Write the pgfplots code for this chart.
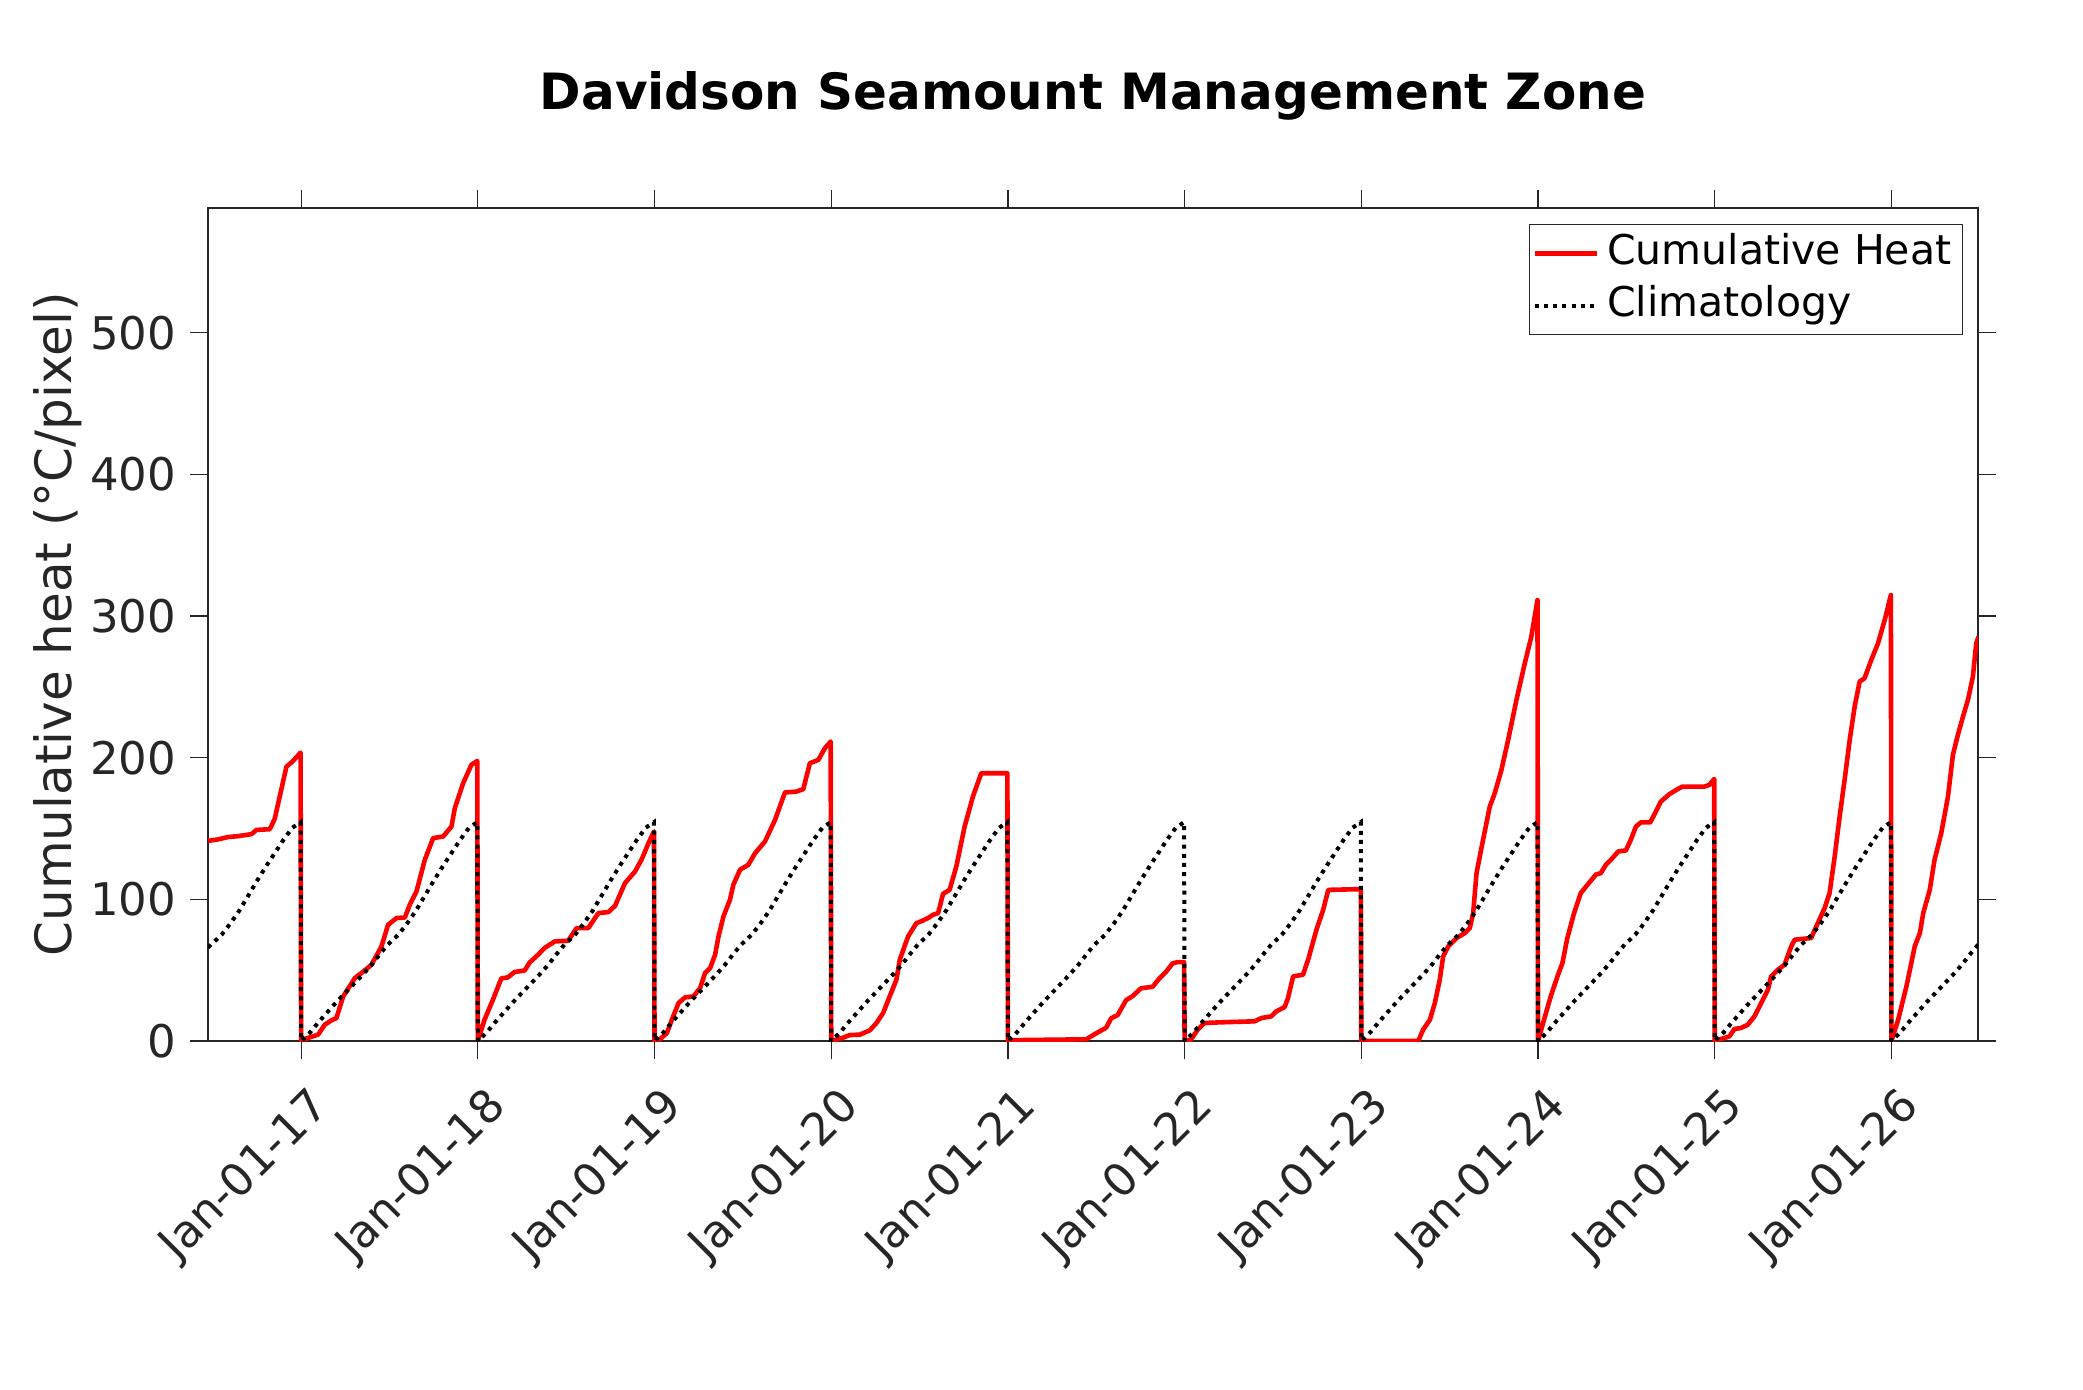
\documentclass[border=0pt]{standalone}
\usepackage{pgfplots}
\pgfplotsset{compat=1.18}
\usepackage{fontspec}
\setmainfont{DejaVu Sans}
\definecolor{axgray}{HTML}{262626}
\begin{document}
\begin{tikzpicture}
\useasboundingbox (0,0) rectangle (1041.5pt,694.5pt);
\begin{axis}[
  at={(104pt,174pt)}, anchor=south west,
  scale only axis, width=885pt, height=416.5pt,
  xmin=2016.473, xmax=2026.49, ymin=0, ymax=588,
  xtick={2017,2018,2019,2020,2021,2022,2023,2024,2025,2026},
  xticklabels={Jan-01-17,Jan-01-18,Jan-01-19,Jan-01-20,Jan-01-21,Jan-01-22,Jan-01-23,Jan-01-24,Jan-01-25,Jan-01-26},
  ytick={0,100,200,300,400,500},
  tick align=outside, major tick length=9pt,
  xtick pos=both, ytick pos=both,
  axis line style={axgray, line width=0.6pt},
  every tick/.style={axgray, line width=0.6pt},
  tick label style={font=\fontsize{22.5}{27}\selectfont, text=axgray},
  /pgf/number format/assume math mode=true,
  yticklabel shift=3.5pt,
  xticklabel style={xshift=13pt, yshift=-18pt, rotate=45, anchor=east},
  title={Davidson Seamount Management Zone},
  title style={font=\bfseries\fontsize{25}{30}\selectfont, at={(0.5,1)}, anchor=center, yshift=50pt},
  ylabel={Cumulative heat (°C/pixel)},
  every axis y label/.style={at={(rel axis cs:0,0.5)}, xshift=-75pt, rotate=90, anchor=center, font=\fontsize{25}{30}\selectfont, text=axgray},
  legend cell align=left,
  legend image code/.code={\draw[#1] (0pt,0pt) -- (31pt,0pt);},
  legend style={at={(rel axis cs:1,1)}, anchor=north east, xshift=-7.5pt, yshift=-8pt,
    draw=axgray, line width=0.6pt, inner sep=1.5pt, row sep=0pt,
    font=\fontsize{20.5}{24}\selectfont,
    nodes={inner xsep=4pt, inner ysep=3pt, text height=15.5pt, text depth=4.5pt}},
]
\addplot[red, line width=2.3pt, line join=round] coordinates {
(2016.474,141.3)(2016.530,142.3)(2016.587,144)(2016.643,144.6)(2016.719,146)(2016.747,149)(2016.823,149.5)(2016.851,157)(2016.879,172.6)(2016.917,193.7)(2016.949,197)(2016.997,203.6)
(2017.000,0)(2017.021,1.4)(2017.096,4.5)(2017.134,11.5)(2017.172,14.6)(2017.200,16.2)(2017.238,31.5)(2017.304,44.4)(2017.351,48.9)(2017.398,53.8)(2017.455,66.8)(2017.492,82)(2017.540,86.8)(2017.587,87.2)(2017.615,96.2)(2017.653,105.6)(2017.700,127.9)(2017.747,143.2)(2017.804,144.4)(2017.851,151.4)(2017.870,164.4)(2017.917,182)(2017.964,195)(2017.997,197.7)
(2018.000,0)(2018.038,15)(2018.085,29)(2018.133,44.2)(2018.170,44.9)(2018.208,48.7)(2018.265,49.8)(2018.294,55.5)(2018.341,60.9)(2018.379,65.8)(2018.436,70.3)(2018.511,70.8)(2018.559,79.7)(2018.625,79.7)(2018.682,90.3)(2018.739,91)(2018.777,95.5)(2018.833,111.5)(2018.890,119.7)(2018.928,128.4)(2018.966,139.7)(2018.997,147.9)
(2019.000,0)(2019.032,1.4)(2019.070,5.6)(2019.098,15)(2019.136,26.8)(2019.173,30.8)(2019.220,31.5)(2019.258,37.4)(2019.286,48)(2019.315,51.5)(2019.343,60.9)(2019.362,73.8)(2019.390,87.9)(2019.427,99.7)(2019.446,110.3)(2019.484,120.9)(2019.531,124.4)(2019.569,132.6)(2019.625,140.8)(2019.682,156.1)(2019.738,175.4)(2019.804,176.1)(2019.842,177.8)(2019.879,196.1)(2019.927,198.4)(2019.964,206.7)(2019.997,211.4)
(2020.000,0)(2020.068,2.4)(2020.105,4.2)(2020.162,4.5)(2020.218,7.5)(2020.256,12.7)(2020.294,19.8)(2020.331,31.5)(2020.369,43.3)(2020.388,57.4)(2020.435,73.8)(2020.482,83.2)(2020.520,85.1)(2020.548,86.8)(2020.576,89.1)(2020.605,90.3)(2020.633,103.9)(2020.670,106.7)(2020.708,123.2)(2020.755,151.4)(2020.802,172.6)(2020.849,189)(2020.997,189)
(2021.000,0.5)(2021.100,0.7)(2021.443,1.2)(2021.499,5.4)(2021.556,9.4)(2021.584,16)(2021.621,18.3)(2021.669,28.9)(2021.706,31.7)(2021.753,37.2)(2021.819,38.3)(2021.857,44.2)(2021.895,48.9)(2021.932,54.8)(2021.960,55.7)(2021.997,55.7)
(2022.000,0)(2022.036,1)(2022.074,8)(2022.112,12.7)(2022.206,13.2)(2022.396,13.9)(2022.434,16.2)(2022.491,17.4)(2022.519,20.9)(2022.566,24)(2022.585,30.3)(2022.614,45.6)(2022.670,46.8)(2022.699,57.4)(2022.746,78.5)(2022.784,92.6)(2022.813,106.7)(2022.997,107.2)
(2023.000,0)(2023.322,0)(2023.350,8)(2023.388,15)(2023.416,26.8)(2023.444,43.3)(2023.463,59.7)(2023.492,66.8)(2023.539,72.7)(2023.586,76.2)(2023.614,79.7)(2023.633,90.3)(2023.652,118.5)(2023.689,142)(2023.727,165.5)(2023.755,174.9)(2023.793,191.4)(2023.831,212.6)(2023.878,240.8)(2023.925,266.6)(2023.962,285.4)(2023.997,311.3)
(2024.000,0)(2024.034,15)(2024.072,31.5)(2024.110,45.6)(2024.138,55)(2024.166,72.7)(2024.204,90.3)(2024.242,104.4)(2024.280,110.3)(2024.327,117.4)(2024.355,118.5)(2024.384,124.4)(2024.421,129.1)(2024.454,133.8)(2024.497,134.5)(2024.525,142)(2024.554,151.4)(2024.582,154.3)(2024.635,154.3)(2024.667,162)(2024.695,169)(2024.743,174.2)(2024.790,177.8)(2024.818,179.6)(2024.941,179.6)(2024.970,180.8)(2024.997,185)
(2025.000,0)(2025.036,1.4)(2025.083,3.3)(2025.112,8.5)(2025.149,9.2)(2025.187,11.5)(2025.225,17.4)(2025.263,26.8)(2025.301,36.2)(2025.319,45.6)(2025.357,50.3)(2025.395,53.8)(2025.433,66.8)(2025.452,71.5)(2025.546,72.7)(2025.575,80.9)(2025.622,93.8)(2025.650,104.4)(2025.679,130.3)(2025.707,158.5)(2025.735,184.3)(2025.764,212.6)(2025.792,236.1)(2025.820,253.7)(2025.848,256.1)(2025.886,269)(2025.924,280.7)(2025.962,297.2)(2025.997,314.8)
(2026.000,0)(2026.038,15)(2026.085,38.6)(2026.132,66.8)(2026.161,76.2)(2026.180,90.3)(2026.217,106.7)(2026.244,127.9)(2026.282,146.7)(2026.320,172.6)(2026.348,202)(2026.376,216.1)(2026.405,229)(2026.433,240.8)(2026.461,257.2)(2026.480,280.7)(2026.493,285.4)
};
\addlegendentry{Cumulative Heat}
\addplot[black, line width=2pt, dash pattern=on 2pt off 2.6pt] coordinates {
(2016.473,66)(2016.49,68)(2016.55,75)(2016.60,83)(2016.65,92)(2016.70,102.5)(2016.75,113)(2016.80,123)(2016.85,132.5)(2016.90,142)(2016.95,150.5)(2016.997,154.5)
(2017.000,0)(2017.05,6)(2017.10,13.5)(2017.15,20.5)(2017.20,27.5)(2017.25,34)(2017.30,40.5)(2017.35,47)(2017.40,54)(2017.45,62)(2017.49,68)(2017.55,75)(2017.60,83)(2017.65,92)(2017.70,102.5)(2017.75,113)(2017.80,123)(2017.85,132.5)(2017.90,142)(2017.95,150.5)(2017.997,154.5)
(2018.000,0)(2018.05,6)(2018.10,13.5)(2018.15,20.5)(2018.20,27.5)(2018.25,34)(2018.30,40.5)(2018.35,47)(2018.40,54)(2018.45,62)(2018.49,68)(2018.55,75)(2018.60,83)(2018.65,92)(2018.70,102.5)(2018.75,113)(2018.80,123)(2018.85,132.5)(2018.90,142)(2018.95,150.5)(2018.997,154.5)
(2019.000,0)(2019.05,6)(2019.10,13.5)(2019.15,20.5)(2019.20,27.5)(2019.25,34)(2019.30,40.5)(2019.35,47)(2019.40,54)(2019.45,62)(2019.49,68)(2019.55,75)(2019.60,83)(2019.65,92)(2019.70,102.5)(2019.75,113)(2019.80,123)(2019.85,132.5)(2019.90,142)(2019.95,150.5)(2019.997,154.5)
(2020.000,0)(2020.05,6)(2020.10,13.5)(2020.15,20.5)(2020.20,27.5)(2020.25,34)(2020.30,40.5)(2020.35,47)(2020.40,54)(2020.45,62)(2020.49,68)(2020.55,75)(2020.60,83)(2020.65,92)(2020.70,102.5)(2020.75,113)(2020.80,123)(2020.85,132.5)(2020.90,142)(2020.95,150.5)(2020.997,154.5)
(2021.000,0)(2021.05,6)(2021.10,13.5)(2021.15,20.5)(2021.20,27.5)(2021.25,34)(2021.30,40.5)(2021.35,47)(2021.40,54)(2021.45,62)(2021.49,68)(2021.55,75)(2021.60,83)(2021.65,92)(2021.70,102.5)(2021.75,113)(2021.80,123)(2021.85,132.5)(2021.90,142)(2021.95,150.5)(2021.997,154.5)
(2022.000,0)(2022.05,6)(2022.10,13.5)(2022.15,20.5)(2022.20,27.5)(2022.25,34)(2022.30,40.5)(2022.35,47)(2022.40,54)(2022.45,62)(2022.49,68)(2022.55,75)(2022.60,83)(2022.65,92)(2022.70,102.5)(2022.75,113)(2022.80,123)(2022.85,132.5)(2022.90,142)(2022.95,150.5)(2022.997,154.5)
(2023.000,0)(2023.05,6)(2023.10,13.5)(2023.15,20.5)(2023.20,27.5)(2023.25,34)(2023.30,40.5)(2023.35,47)(2023.40,54)(2023.45,62)(2023.49,68)(2023.55,75)(2023.60,83)(2023.65,92)(2023.70,102.5)(2023.75,113)(2023.80,123)(2023.85,132.5)(2023.90,142)(2023.95,150.5)(2023.997,154.5)
(2024.000,0)(2024.05,6)(2024.10,13.5)(2024.15,20.5)(2024.20,27.5)(2024.25,34)(2024.30,40.5)(2024.35,47)(2024.40,54)(2024.45,62)(2024.49,68)(2024.55,75)(2024.60,83)(2024.65,92)(2024.70,102.5)(2024.75,113)(2024.80,123)(2024.85,132.5)(2024.90,142)(2024.95,150.5)(2024.997,154.5)
(2025.000,0)(2025.05,6)(2025.10,13.5)(2025.15,20.5)(2025.20,27.5)(2025.25,34)(2025.30,40.5)(2025.35,47)(2025.40,54)(2025.45,62)(2025.49,68)(2025.55,75)(2025.60,83)(2025.65,92)(2025.70,102.5)(2025.75,113)(2025.80,123)(2025.85,132.5)(2025.90,142)(2025.95,150.5)(2025.997,154.5)
(2026.000,0)(2026.05,6)(2026.10,13.5)(2026.15,20.5)(2026.20,27.5)(2026.25,34)(2026.30,40.5)(2026.35,47)(2026.40,54)(2026.45,62)(2026.49,68)
};
\addlegendentry{Climatology}
\end{axis}
\end{tikzpicture}
\end{document}
